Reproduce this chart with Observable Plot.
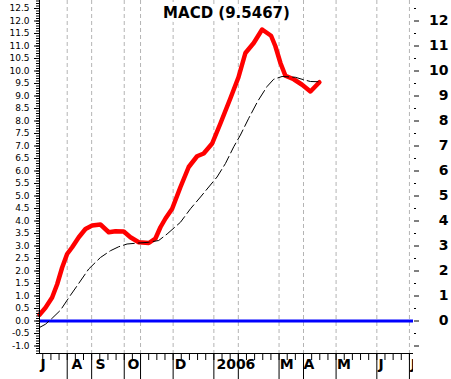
<!DOCTYPE html>
<html>
<head>
<meta charset="utf-8">
<style>
  html, body { margin: 0; padding: 0; background: #ffffff; }
</style>
<script src="https://cdn.jsdelivr.net/npm/d3@7"></script>
<script src="https://cdn.jsdelivr.net/npm/@observablehq/plot@0.6"></script>
</head>
<body>
<div id="chart"></div>
<script>
// ---- data (x in weeks from the first July tick) ----
const titleText = "MACD (9.5467)";

const macdWeek = [-0.4, 0.33, 1.15, 1.77, 2.38, 2.99, 3.61, 4.42, 5.24, 6.06, 7.08, 8.10, 8.92, 9.94, 10.76, 11.78, 13.01, 13.83, 14.44, 15.06, 15.88, 16.90, 17.91, 18.94, 19.75, 20.79, 21.80, 23.03, 24.02, 24.87, 25.89, 26.92, 28.02, 28.55, 29.17, 29.78, 30.80, 31.83, 32.85, 33.95];
const macdValue = [0.25, 0.53, 0.94, 1.47, 2.14, 2.68, 2.95, 3.35, 3.68, 3.82, 3.86, 3.55, 3.59, 3.58, 3.35, 3.15, 3.12, 3.30, 3.75, 4.10, 4.49, 5.36, 6.16, 6.59, 6.70, 7.10, 7.90, 8.91, 9.75, 10.72, 11.12, 11.66, 11.41, 10.99, 10.32, 9.81, 9.67, 9.45, 9.18, 9.55];

const signalWeek = [-0.4, 0.33, 1.15, 2.17, 3.40, 4.22, 5.64, 7.08, 8.30, 9.32, 10.35, 11.78, 13.01, 14.23, 15.26, 16.90, 18.13, 19.36, 20.37, 21.39, 22.42, 23.44, 24.26, 25.28, 26.40, 27.53, 28.34, 29.37, 31.00, 32.02, 32.85, 33.95];
const signalValue = [-0.26, -0.13, 0.11, 0.43, 1.03, 1.41, 2.08, 2.54, 2.81, 2.97, 3.08, 3.12, 3.15, 3.22, 3.48, 3.95, 4.49, 4.96, 5.36, 5.76, 6.30, 6.97, 7.44, 8.11, 8.80, 9.38, 9.67, 9.78, 9.75, 9.65, 9.58, 9.57];

// month starts (week index) and month labels
const monthWeeks = [3, 6, 10, 12, 16, 21, 24, 29, 32, 36, 41, 45];
const labelText = ["J", "A", "S", "O", "D", "2006", "M", "A", "M", "J", "J"];
const labelWeek = [-0.28, 3.52, 6.47, 10.39, 16.2, 21.31, 29.1, 31.99, 36.1, 41.2, 45.15];

const leftTicks = d3.range(-2, 26).map(i => i / 2);     // -1.0 .. 12.5
const leftMinor = d3.range(-13, 129).map(i => i / 10);  // every 0.1
const rightTicks = d3.range(-1, 13);                    // -1 .. 12
const rightHalf = d3.range(-1, 13).map(i => i + 0.5);
const weekTicks = d3.range(0, 46);

const xDomain = [-0.4, 45.5];
const yDomain = [-1.3, 12.82];

// ---- build ----
const macd = macdWeek.map((w, i) => ({week: w, value: macdValue[i]}));
const signal = signalWeek.map((w, i) => ({week: w, value: signalValue[i]}));
const lastIdx = labelText.length - 1;

const chart = Plot.plot({
  width: 451,
  height: 379,
  marginTop: 0,
  marginLeft: 39,
  marginRight: 38,
  marginBottom: 26,
  style: {background: "white", fontFamily: "DejaVu Sans", fontSize: "9px", color: "black", overflow: "visible"},
  x: {domain: xDomain, axis: null},
  y: {domain: yDomain, axis: null},
  marks: [
    Plot.ruleX(monthWeeks, {stroke: "#b4b4b4", strokeDasharray: "4,3"}),
    Plot.ruleY([0], {stroke: "#0000ff", strokeWidth: 3}),
    Plot.line(macd, {x: "week", y: "value", stroke: "#ff0000", strokeWidth: 4.5}),
    Plot.line(signal, {x: "week", y: "value", stroke: "#000000", strokeWidth: 1, strokeDasharray: "11,4"}),
    Plot.ruleX([xDomain[0]], {stroke: "black"}),
    Plot.ruleY([yDomain[0]], {stroke: "black"}),
    Plot.axisY({anchor: "left", ticks: leftMinor, tickSize: 3, tickFormat: () => "", label: null}),
    Plot.axisY({anchor: "left", ticks: leftTicks, tickSize: 5, tickPadding: 5, tickFormat: d => d.toFixed(1), fontSize: 9, label: null}),
    Plot.axisY({anchor: "right", ticks: rightHalf, tickSize: 2, tickFormat: () => "", label: null}),
    Plot.axisY({anchor: "right", ticks: rightTicks, tickSize: 5, tickPadding: 30, tickFormat: d => d < 0 ? "" : String(d), textAnchor: "end", fontSize: 14, fontWeight: "bold", label: null}),
    Plot.axisX({anchor: "bottom", ticks: weekTicks, tickSize: 7, tickFormat: () => "", label: null}),
    Plot.axisX({anchor: "bottom", ticks: monthWeeks, tickSize: 26, tickFormat: () => "", label: null}),
    Plot.text(labelText.slice(0, lastIdx), {x: (d, i) => labelWeek[i], text: d => d, frameAnchor: "bottom", dy: 15.5, textAnchor: "start", fontSize: 14, fontWeight: "bold"}),
    Plot.text([titleText], {text: d => d, frameAnchor: "top", dy: 7, lineAnchor: "top", fontSize: 15, fontWeight: "bold", fill: "black", stroke: "white", strokeWidth: 8}),
    Plot.text([labelText[lastIdx]], {x: () => labelWeek[lastIdx], text: d => d, frameAnchor: "bottom", dy: 15.5, textAnchor: "start", fontSize: 14, fontWeight: "bold", ariaLabel: "last-month-label"})
  ]
});

document.getElementById("chart").appendChild(chart);

// clip the trailing month label at the plot's right edge (like the reference)
const svgNode = chart.tagName.toLowerCase() === "svg" ? chart : chart.querySelector("svg");
const svg = d3.select(svgNode);
const cid = "clip-last-label";
svg.append("defs").append("clipPath").attr("id", cid).attr("clipPathUnits", "userSpaceOnUse")
  .append("rect").attr("x", -1000).attr("y", -1000).attr("width", 1000 + 413).attr("height", 3000);
let lastG = svgNode.querySelector('g[aria-label="last-month-label"]');
if (!lastG) {
  const gs = svgNode.querySelectorAll('g[aria-label="text"]');
  lastG = gs[gs.length - 1];
}
if (lastG) {
  const wrap = document.createElementNS("http://www.w3.org/2000/svg", "g");
  wrap.setAttribute("clip-path", `url(#${cid})`);
  lastG.parentNode.insertBefore(wrap, lastG);
  wrap.appendChild(lastG);
}
</script>
</body>
</html>
